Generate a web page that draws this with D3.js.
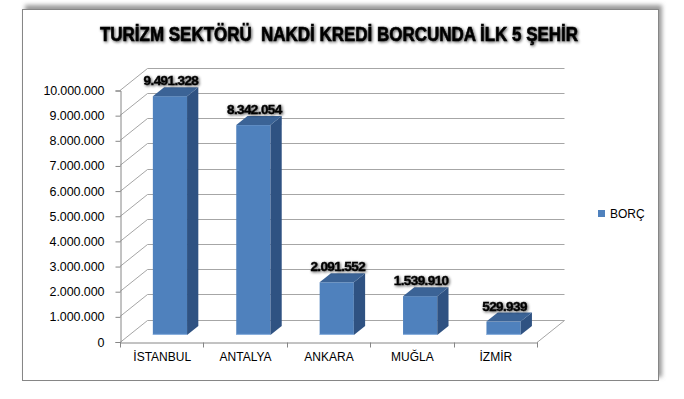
<!DOCTYPE html>
<html>
<head>
<meta charset="utf-8">
<script src="https://cdn.jsdelivr.net/npm/d3@7"></script>
<style>
  body { margin: 0; background: #fff; }
  text { font-family: "Liberation Sans", Arial, sans-serif; }
</style>
</head>
<body>
<div id="chart"></div>
<script>
// chart data
const categories = ["İSTANBUL", "ANTALYA", "ANKARA", "MUĞLA", "İZMİR"];
const borc = [9491328, 8342054, 2091552, 1539910, 529939];
const yTicks = [0, 1000000, 2000000, 3000000, 4000000, 5000000,
  6000000, 7000000, 8000000, 9000000, 10000000];
const seriesName = "BORÇ";
const title = "TURİZM SEKTÖRÜ  NAKDİ KREDİ BORCUNDA İLK 5 ŞEHİR";

const width = 684;
const height = 399;

// 3d depth of the floor / walls
let depthX = 27.5;
let depthY = -22;
let barDepth0 = 0.3;
let barDepth1 = 0.71;

const tr = d3.formatLocale({decimal: ",", thousands: ".", grouping: [3], currency: ["", ""]});
const fmt = tr.format(",d");

const svg = d3.select("#chart").append("svg")
  .attr("width", width)
  .attr("height", height);

const defs = svg.append("defs");
let glow = defs.append("filter").attr("id", "glow")
  .attr("x", "-10%").attr("y", "-30%").attr("width", "120%").attr("height", "160%");
glow.append("feGaussianBlur").attr("in", "SourceAlpha").attr("stdDeviation", 1.4).attr("result", "b");
glow.append("feOffset").attr("in", "b").attr("dx", 0.6).attr("dy", 0.9).attr("result", "o");
glow.append("feComponentTransfer").attr("in", "o").attr("result", "s")
  .append("feFuncA").attr("type", "linear").attr("slope", 0.7);
let gm = glow.append("feMerge");
gm.append("feMergeNode").attr("in", "s");
gm.append("feMergeNode").attr("in", "SourceGraphic");

let shadow = defs.append("filter").attr("id", "shadow")
  .attr("x", "-5%").attr("y", "-5%").attr("width", "110%").attr("height", "110%");
shadow.append("feGaussianBlur").attr("stdDeviation", 2);

// frame with shadow
svg.append("rect")
  .attr("x", 25).attr("y", 5).attr("width", 637).attr("height", 372)
  .attr("fill", "#9a9a9a")
  .attr("filter", "url(#shadow)");
svg.append("rect")
  .attr("x", 22.5).attr("y", 9.5).attr("width", 636).attr("height", 371)
  .attr("fill", "#fff")
  .attr("stroke", "#868686")
  .attr("stroke-width", 1);

// title
svg.append("text")
  .attr("x", 339).attr("y", 41)
  .attr("text-anchor", "middle")
  .attr("font-size", 20)
  .attr("font-weight", "bold")
  .attr("textLength", 478)
  .attr("lengthAdjust", "spacingAndGlyphs")
  .style("white-space", "pre")
  .attr("fill", "#000")
  .attr("stroke", "#000")
  .attr("stroke-width", 0.6)
  .attr("filter", "url(#glow)")
  .text(title);

// scales
let x0 = 120, x1 = 537;
const x = d3.scaleBand().domain(categories).range([x0, x1])
  .paddingInner(0.59).paddingOuter(0.295);
const xCat = d3.scaleBand().domain(categories).range([x0, x1]).padding(0);
const y = d3.scaleLinear().domain([0, 10000000]).range([341.5, 90]);

// walls: gridlines on left wall and back wall
const grid = svg.append("g").attr("stroke", "#a6a6a6").attr("stroke-width", 1).attr("fill", "none");
grid.selectAll("path.grid")
  .data(yTicks)
  .enter()
  .append("path")
  .classed("grid", true)
  .attr("d", (d) => {
    let yy = Math.round(y(d)) + 0.5;
    return `M${x0},${yy} L${x0 + depthX},${yy + depthY} L${x1 + depthX},${yy + depthY}`;
  });
// right floor edge
grid.append("path")
  .attr("d", `M${x1},${Math.round(y(0)) + 0.5} L${x1 + depthX},${Math.round(y(0)) + 0.5 + depthY}`);

// y axis
const yAxis = svg.append("g")
  .attr("transform", `translate(${x0 + 0.5},0.5)`)
  .call(d3.axisLeft(y).tickValues(yTicks).tickFormat(fmt).tickSize(5).tickPadding(11));
yAxis.select(".domain").attr("stroke", "#868686");
yAxis.selectAll(".tick line").attr("stroke", "#868686");
yAxis.selectAll(".tick text")
  .attr("font-size", 12.5)
  .attr("fill", "#000")
  .attr("textLength", (d) => fmt(d).length * 6.1)
  .style("font-family", "'Liberation Sans', sans-serif");

// x axis
const xAxis = svg.append("g")
  .attr("transform", `translate(0.5,${Math.round(y(0)) + 0.5})`)
  .call(d3.axisBottom(xCat).tickSize(0).tickPadding(10));
xAxis.select(".domain").attr("stroke", "#868686");
xAxis.selectAll(".tick text")
  .attr("font-size", 12)
  .attr("fill", "#000")
  .style("font-family", "'Liberation Sans', sans-serif");
let boundaries = categories.map((c) => xCat(c)).concat([x1]);
xAxis.selectAll("line.cat-tick")
  .data(boundaries)
  .enter()
  .append("line")
  .classed("cat-tick", true)
  .attr("x1", (d) => Math.round(d))
  .attr("x2", (d) => Math.round(d))
  .attr("y1", 0)
  .attr("y2", 5)
  .attr("stroke", "#868686");

// bars
const bars = svg.selectAll("g.bar")
  .data(categories.map((c, i) => ({name: c, value: borc[i]})))
  .enter()
  .append("g")
  .classed("bar", true);

let fx = (d) => x(d.name) + barDepth0 * depthX;
let fy = (v) => y(v) + barDepth0 * depthY;
let dx = (barDepth1 - barDepth0) * depthX;
let dy = (barDepth1 - barDepth0) * depthY;

bars.append("rect")
  .attr("x", (d) => fx(d))
  .attr("y", (d) => fy(d.value))
  .attr("width", x.bandwidth())
  .attr("height", (d) => fy(0) - fy(d.value))
  .attr("fill", "#4f81bd");
bars.append("path")
  .attr("d", (d) => {
    let xr = fx(d) + x.bandwidth();
    return `M${xr},${fy(d.value)} L${xr + dx},${fy(d.value) + dy} L${xr + dx},${fy(0) + dy} L${xr},${fy(0)} Z`;
  })
  .attr("fill", "#2f5282");
bars.append("path")
  .attr("d", (d) => {
    let xl = fx(d);
    let xr = xl + x.bandwidth();
    let yt = fy(d.value);
    return `M${xl},${yt} L${xl + dx},${yt + dy} L${xr + dx},${yt + dy} L${xr},${yt} Z`;
  })
  .attr("fill", "#3b6396");
bars.append("line")
  .attr("x1", (d) => fx(d))
  .attr("x2", (d) => fx(d) + x.bandwidth())
  .attr("y1", fy(0) - 0.5)
  .attr("y2", fy(0) - 0.5)
  .attr("stroke", "#8fb3e0")
  .attr("stroke-width", 1);

// value labels
bars.append("text")
  .attr("x", (d) => fx(d) + x.bandwidth() / 2 + 1)
  .attr("y", (d) => fy(d.value) - 11)
  .attr("text-anchor", "middle")
  .attr("font-size", 13.5)
  .attr("font-weight", "bold")
  .attr("letter-spacing", -0.6)
  .attr("fill", "#000")
  .attr("stroke", "#000")
  .attr("stroke-width", 0.4)
  .attr("filter", "url(#glow)")
  .text((d) => fmt(d.value));

// legend
const legend = svg.append("g").attr("transform", "translate(598,210)");
legend.append("rect")
  .attr("width", 7).attr("height", 7)
  .attr("fill", "#4f81bd");
legend.append("text")
  .attr("x", 12).attr("y", 8)
  .attr("font-size", 12)
  .attr("fill", "#000")
  .text(seriesName);
</script>
</body>
</html>
